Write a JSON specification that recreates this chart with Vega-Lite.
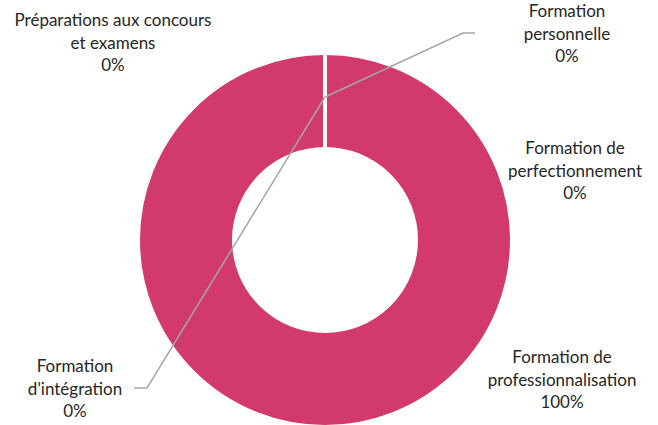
{
  "$schema": "https://vega.github.io/schema/vega-lite/v6.json",
  "width": 650,
  "height": 370,
  "autosize": {"type": "none"},
  "padding": {"left": 0, "top": 55, "right": 8, "bottom": 0},
  "background": "white",
  "config": {"view": {"stroke": null}},
  "datasets": {
    "slices": [
      {"category": "Formation d'intégration", "value": 0},
      {"category": "Formation de perfectionnement", "value": 0},
      {"category": "Formation de professionnalisation", "value": 100},
      {"category": "Formation personnelle", "value": 0},
      {"category": "Préparations aux concours et examens", "value": 0}
    ],
    "labels": [
      {"text": "Préparations aux concours\net examens\n0%", "x": 113, "y": 21},
      {"text": "Formation\npersonnelle\n0%", "x": 567, "y": 12},
      {"text": "Formation de\nperfectionnement\n0%", "x": 575, "y": 149},
      {"text": "Formation\nd'intégration\n0%", "x": 75, "y": 367},
      {"text": "Formation de\nprofessionnalisation\n100%", "x": 562, "y": 358}
    ],
    "leaders": [
      {"line": "Formation personnelle", "order": 1, "x": 475, "y": 33},
      {"line": "Formation personnelle", "order": 2, "x": 463, "y": 33},
      {"line": "Formation personnelle", "order": 3, "x": 325, "y": 97},
      {"line": "Formation d'intégration", "order": 1, "x": 325, "y": 97},
      {"line": "Formation d'intégration", "order": 2, "x": 147, "y": 388},
      {"line": "Formation d'intégration", "order": 3, "x": 134, "y": 388}
    ]
  },
  "layer": [
    {
      "data": {"name": "slices"},
      "mark": {"type": "arc", "outerRadius": 187, "innerRadius": 91, "stroke": "white", "strokeWidth": 4},
      "encoding": {
        "theta": {"field": "value", "type": "quantitative", "stack": true},
        "order": {"field": "category"},
        "color": {"value": "#D13A6B"}
      }
    },
    {
      "data": {"name": "leaders"},
      "mark": {"type": "line", "color": "#A6A6A6", "strokeWidth": 1.5},
      "encoding": {
        "x": {"field": "x", "type": "quantitative", "scale": {"domain": [0, 650]}, "axis": null},
        "y": {"field": "y", "type": "quantitative", "scale": {"domain": [55, 425], "reverse": true}, "axis": null},
        "detail": {"field": "line"},
        "order": {"field": "order"}
      }
    },
    {
      "data": {"name": "labels"},
      "mark": {"type": "text", "font": "Lato", "fontSize": 17, "color": "#262626", "lineBreak": "\n", "lineHeight": 22.5, "align": "center", "baseline": "middle"},
      "encoding": {
        "x": {"field": "x", "type": "quantitative", "scale": {"domain": [0, 650]}, "axis": null},
        "y": {"field": "y", "type": "quantitative", "scale": {"domain": [55, 425], "reverse": true}, "axis": null},
        "text": {"field": "text"}
      }
    }
  ]
}
